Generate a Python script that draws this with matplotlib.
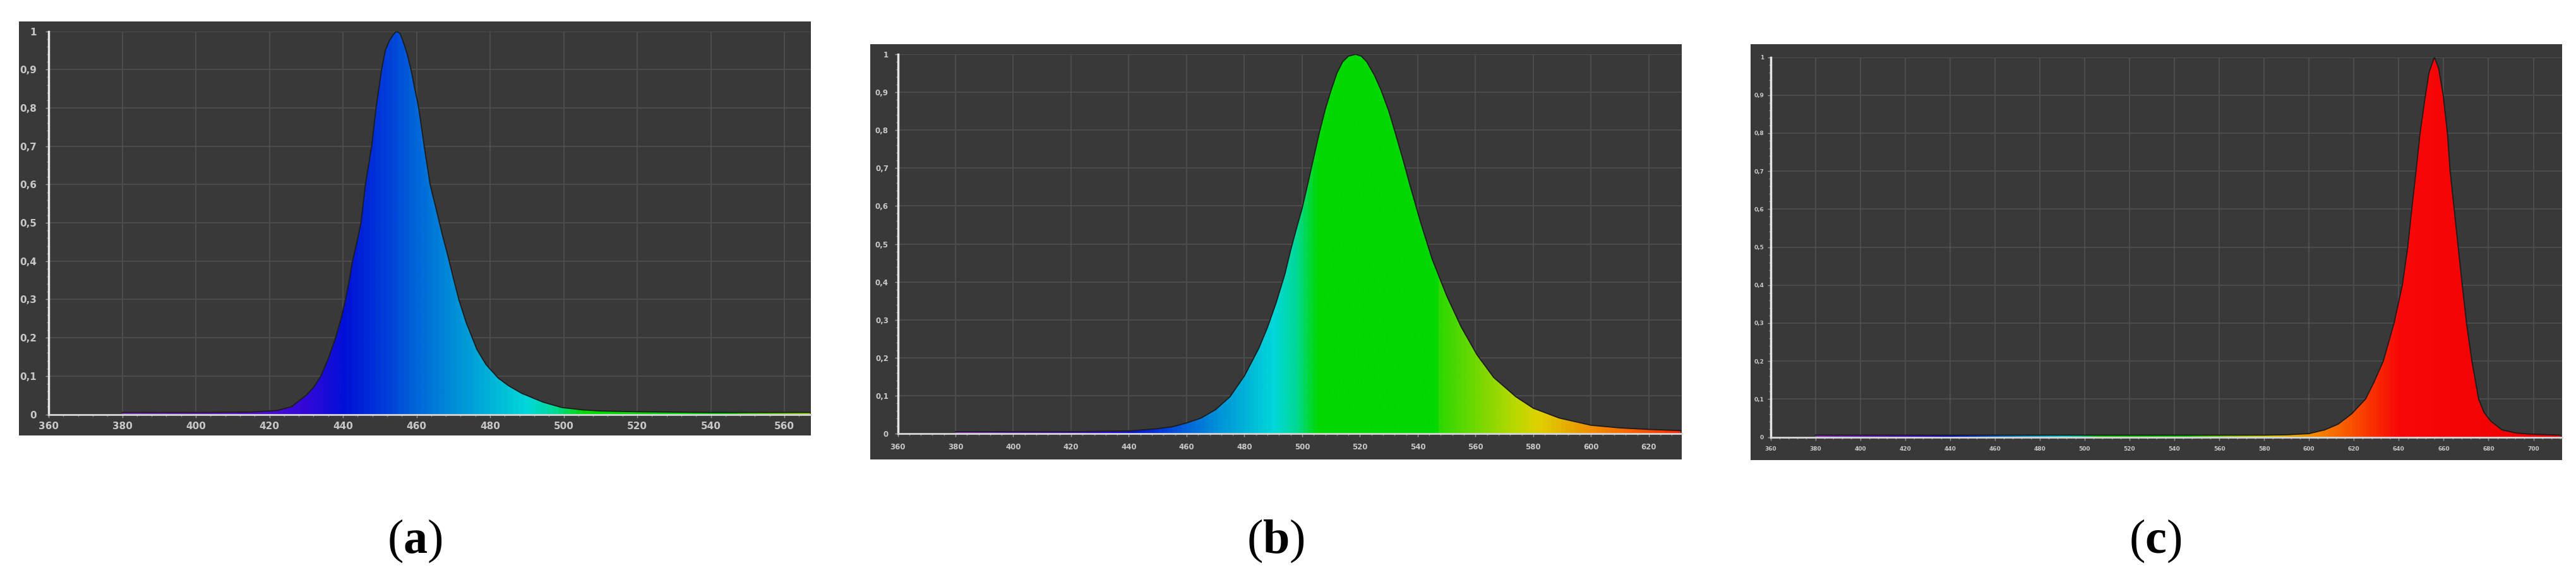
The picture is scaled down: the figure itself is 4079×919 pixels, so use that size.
import numpy as np
import matplotlib.pyplot as plt
from matplotlib.patches import Rectangle, Polygon
from matplotlib.colors import LinearSegmentedColormap, Normalize
from matplotlib.ticker import MultipleLocator

# spectra (wavelength in nm, relative intensity)
wl_a = [380, 400, 415, 422, 426, 430, 432, 434, 436, 438, 439.5, 440.7, 441.7, 442.6, 443.8,
        444.9, 446.1, 447.8, 449.0, 450.5, 451.5, 452.6, 453.6, 454.5, 455.5, 456.5, 457.5,
        458.5, 460.6, 462.1, 463.7, 465.5, 467.0, 468.5, 469.9, 471.5, 473.5, 476.4, 478.9,
        482.2, 485, 488.6, 494.4, 499.5, 505, 510, 520, 540, 567]
int_a = [0.005, 0.005, 0.006, 0.01, 0.02, 0.05, 0.07, 0.1, 0.145, 0.2, 0.25, 0.3, 0.35, 0.4, 0.45,
         0.5, 0.6, 0.7, 0.8, 0.9, 0.95, 0.975, 0.99, 1.0, 0.995, 0.97, 0.94,
         0.9, 0.8, 0.7, 0.6, 0.53, 0.47, 0.415, 0.36, 0.3, 0.24, 0.17, 0.13,
         0.095, 0.075, 0.055, 0.032, 0.018, 0.012, 0.009, 0.007, 0.005, 0.005]

wl_b = [380, 420, 440, 450, 455, 460, 465, 470, 475, 480, 485, 488, 491, 494, 496, 498, 500,
        502, 504, 506, 508, 510, 512, 514, 516, 518.5, 520.5, 522.4, 525, 527.3, 530, 532.2,
        535, 537.1, 541, 545, 550, 555, 560.5, 566.3, 574, 580, 589, 600, 610, 620, 631]
int_b = [0.005, 0.005, 0.007, 0.013, 0.018, 0.028, 0.041, 0.063, 0.097, 0.152, 0.225, 0.28, 0.345,
         0.42, 0.483, 0.54, 0.594, 0.66, 0.728, 0.795, 0.855, 0.905, 0.95, 0.98, 0.995, 1.0,
         0.995, 0.98, 0.945, 0.906, 0.85, 0.794, 0.72, 0.661, 0.557, 0.46, 0.364, 0.282, 0.208,
         0.148, 0.097, 0.067, 0.041, 0.022, 0.015, 0.011, 0.008]

wl_c = [380, 500, 580, 590, 600, 607, 613, 619, 622, 625.2, 629, 633.1, 637.9, 641.6, 644,
        645.8, 647.7, 649.5, 651.9, 653.5, 655.9, 657.8, 659.8, 661.7, 662.9, 664.7, 666.5,
        668.3, 670.2, 672.6, 675.6, 678, 681, 686, 692, 698, 712]
int_c = [0.005, 0.005, 0.005, 0.006, 0.009, 0.019, 0.034, 0.061, 0.08, 0.1, 0.145, 0.2, 0.3, 0.4, 0.5,
         0.6, 0.7, 0.8, 0.9, 0.96, 1.0, 0.97, 0.9, 0.8, 0.7, 0.6, 0.5,
         0.4, 0.3, 0.2, 0.1, 0.065, 0.042, 0.019, 0.011, 0.008, 0.005]

# colour of the fill along the wavelength axis
spec_wl = [380, 410, 430, 440, 450, 460, 470, 480, 490, 498, 505, 546, 548, 560, 575, 582,
           595, 600, 615, 628, 640, 700, 780]
spec_col = ['#8a30c8', '#6010d0', '#3008d8', '#0010d8', '#0038d8', '#0068d8', '#0090d8',
            '#00b4d8', '#00d8d8', '#00d890', '#00d800', '#00d800', '#30d800', '#70d800',
            '#c0d800', '#e0d000', '#e8a000', '#f09000', '#f86000', '#fa3000', '#f80808',
            '#f00000', '#f00000']

y_ticks = [0, 0.1, 0.2, 0.3, 0.4, 0.5, 0.6, 0.7, 0.8, 0.9, 1]
y_labels = ['0', '0,1', '0,2', '0,3', '0,4', '0,5', '0,6', '0,7', '0,8', '0,9', '1']
panel_names = ['a', 'b', 'c']

W, H = 4079, 919
bg = '#393939'

plt.rcParams['mathtext.fontset'] = 'custom'
plt.rcParams['mathtext.rm'] = 'Liberation Serif'
plt.rcParams['mathtext.bf'] = 'Liberation Serif:bold'

fig = plt.figure(figsize=(W / 100, H / 100), dpi=100)

cmap = LinearSegmentedColormap.from_list(
    'spec', [((w - 380) / 400, c) for w, c in zip(spec_wl, spec_col)])
norm = Normalize(380, 780)


def frac(l, t, r, b):
    return [l / W, 1 - b / H, (r - l) / W, (b - t) / H]


def draw_panel(wl, val, frame, box, xmax, fs, xpad, ypad):
    # dark frame behind everything
    fig.add_artist(Rectangle((frame[0] / W, 1 - frame[3] / H), (frame[2] - frame[0]) / W,
                             (frame[3] - frame[1]) / H, transform=fig.transFigure,
                             facecolor=bg, edgecolor='none', zorder=0))
    ax = fig.add_axes(frac(*box))
    ax.set_facecolor(bg)
    ax.set_xlim(360, xmax)
    ax.set_ylim(0, 1)

    # gradient clipped by the curve
    grid = np.linspace(360, xmax, 1200)
    im = ax.imshow(grid[None, :], cmap=cmap, norm=norm, extent=[360, xmax, 0, 1],
                   aspect='auto', zorder=2, interpolation='bilinear')
    verts = [(wl[0], 0)] + list(zip(wl, val)) + [(wl[-1], 0)]
    poly = Polygon(verts, closed=True, facecolor='none', edgecolor='none', transform=ax.transData)
    ax.add_patch(poly)
    im.set_clip_path(poly)
    ax.plot(wl, val, color='#1c1c1c', lw=1.3, zorder=3)

    ax.set_xticks(np.arange(360, xmax + 0.1, 20))
    ax.set_yticks(y_ticks)
    ax.set_yticklabels(y_labels)
    ax.xaxis.set_minor_locator(MultipleLocator(4))
    ax.yaxis.set_minor_locator(MultipleLocator(0.02))
    ax.grid(True, color='#4d4d4d', lw=1.4, zorder=1)
    ax.set_axisbelow(True)
    ax.tick_params(which='major', length=3.5, width=1, color='#9a9a9a')
    ax.tick_params(which='minor', length=2, width=1, color='#8a8a8a')
    ax.tick_params(axis='x', pad=xpad)
    ax.tick_params(axis='y', pad=ypad)
    for lab in ax.get_xticklabels() + ax.get_yticklabels():
        lab.set_fontsize(fs)
        lab.set_fontweight('bold')
        lab.set_color('#c8c8c8')
    ax.spines['top'].set_visible(False)
    ax.spines['right'].set_visible(False)
    ax.spines['left'].set_color('#e6e6e6')
    ax.spines['left'].set_linewidth(2.5)
    ax.spines['bottom'].set_color('#d8d8d8')
    ax.spines['bottom'].set_linewidth(2)
    for s in ax.spines.values():
        s.set_zorder(4)
    return ax


draw_panel(wl_a, int_a, (30, 33.5, 1284, 690), (77, 49.6, 1284, 656.6), 567.2, 11, 5, 10)
draw_panel(wl_b, int_b, (1378, 70, 2663, 728), (1421.5, 86, 2663, 687), 631.4, 8.5, 7, 7)
draw_panel(wl_c, int_c, (2772, 70, 4057, 729), (2803.5, 90.5, 4057, 692.5), 712.8, 6.5, 7, 4)

# panel letters under each chart
for name, xc in zip(panel_names, [657, 2020, 3413]):
    fig.text(xc / W, 1 - 857 / H, r'$(\mathbf{' + name + '})$', fontsize=55,
             ha='center', va='center', color='black')

fig.savefig('out.png', dpi=100, facecolor='white')
